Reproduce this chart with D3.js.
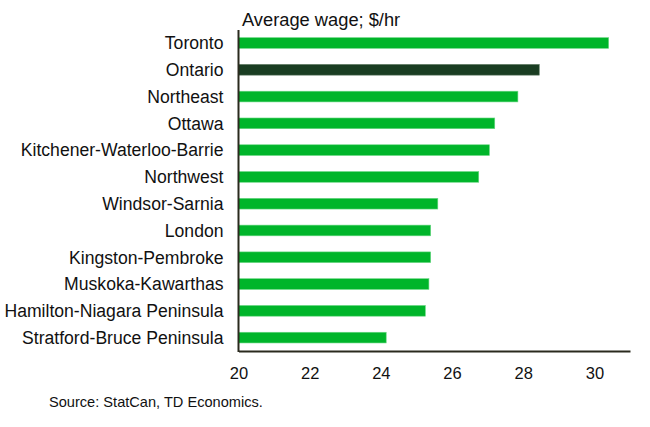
<!DOCTYPE html>
<html>
<head>
<meta charset="utf-8">
<script src="https://cdn.jsdelivr.net/npm/d3@7"></script>
<style>
  body { margin: 0; background: #fff; }
  text { font-family: "Liberation Sans", Arial, sans-serif; fill: #111; }
</style>
</head>
<body>
<div id="chart"></div>
<script>
// Regions and average wages ($/hr)
const regions = [
    "Toronto", "Ontario", "Northeast", "Ottawa", "Kitchener-Waterloo-Barrie",
    "Northwest", "Windsor-Sarnia", "London", "Kingston-Pembroke",
    "Muskoka-Kawarthas", "Hamilton-Niagara Peninsula", "Stratford-Bruce Peninsula"
];
const wages = [30.4, 28.45, 27.85, 27.2, 27.05, 26.75, 25.6, 25.4, 25.4, 25.35, 25.25, 24.15];
const xTicks = [20, 22, 24, 26, 28, 30];
const highlight = "Ontario";

const data = regions.map((r, i) => ({ region: r, wage: wages[i] }));

const width = 650, height = 427;

const svg = d3.select("#chart")
    .append("svg")
    .attr("width", width)
    .attr("height", height);

// Scales
const x = d3.scaleLinear()
    .domain([20, 31])
    .range([238.5, 630]);

const y = d3.scaleBand()
    .domain(regions)
    .range([29.6, 351])
    .paddingInner(0.6)
    .paddingOuter(0.3);

// Bars
svg.append("g")
    .selectAll("rect")
    .data(data)
    .join("rect")
    .attr("x", x(20))
    .attr("y", d => y(d.region))
    .attr("width", d => x(d.wage) - x(20))
    .attr("height", y.bandwidth())
    .attr("fill", d => d.region === highlight ? "#1a3d22" : "#00b52a")
    .attr("stroke", d => d.region === highlight ? "#5e7a62" : "#6ad884")
    .attr("stroke-width", 0.6);

// Category labels
svg.append("g")
    .selectAll("text")
    .data(data)
    .join("text")
    .attr("x", 223.5)
    .attr("y", d => y(d.region) + y.bandwidth() / 2)
    .attr("dy", "0.36em")
    .attr("text-anchor", "end")
    .style("font-size", "17.6px")
    .text(d => d.region);

// X axis (no tick marks, just labels)
const xAxis = svg.append("g")
    .attr("transform", `translate(0,351)`)
    .call(d3.axisBottom(x).tickValues(xTicks).tickSize(0).tickPadding(16));
xAxis.select(".domain").attr("stroke", "#2a2a1e").attr("stroke-width", 2);
xAxis.selectAll("text")
    .style("font-size", "16.5px")
    .style("font-family", "'Liberation Sans', Arial, sans-serif")
    .attr("fill", "#111");

// Y axis line
svg.append("line")
    .attr("x1", x(20)).attr("x2", x(20))
    .attr("y1", 30).attr("y2", 352)
    .attr("stroke", "#2a2a1e")
    .attr("stroke-width", 2);

// Title
svg.append("text")
    .attr("x", 242)
    .attr("y", 25.5)
    .style("font-size", "18.3px")
    .text("Average wage; $/hr");

// Source
svg.append("text")
    .attr("x", 49)
    .attr("y", 407)
    .style("font-size", "14.6px")
    .text("Source: StatCan, TD Economics.");
</script>
</body>
</html>
